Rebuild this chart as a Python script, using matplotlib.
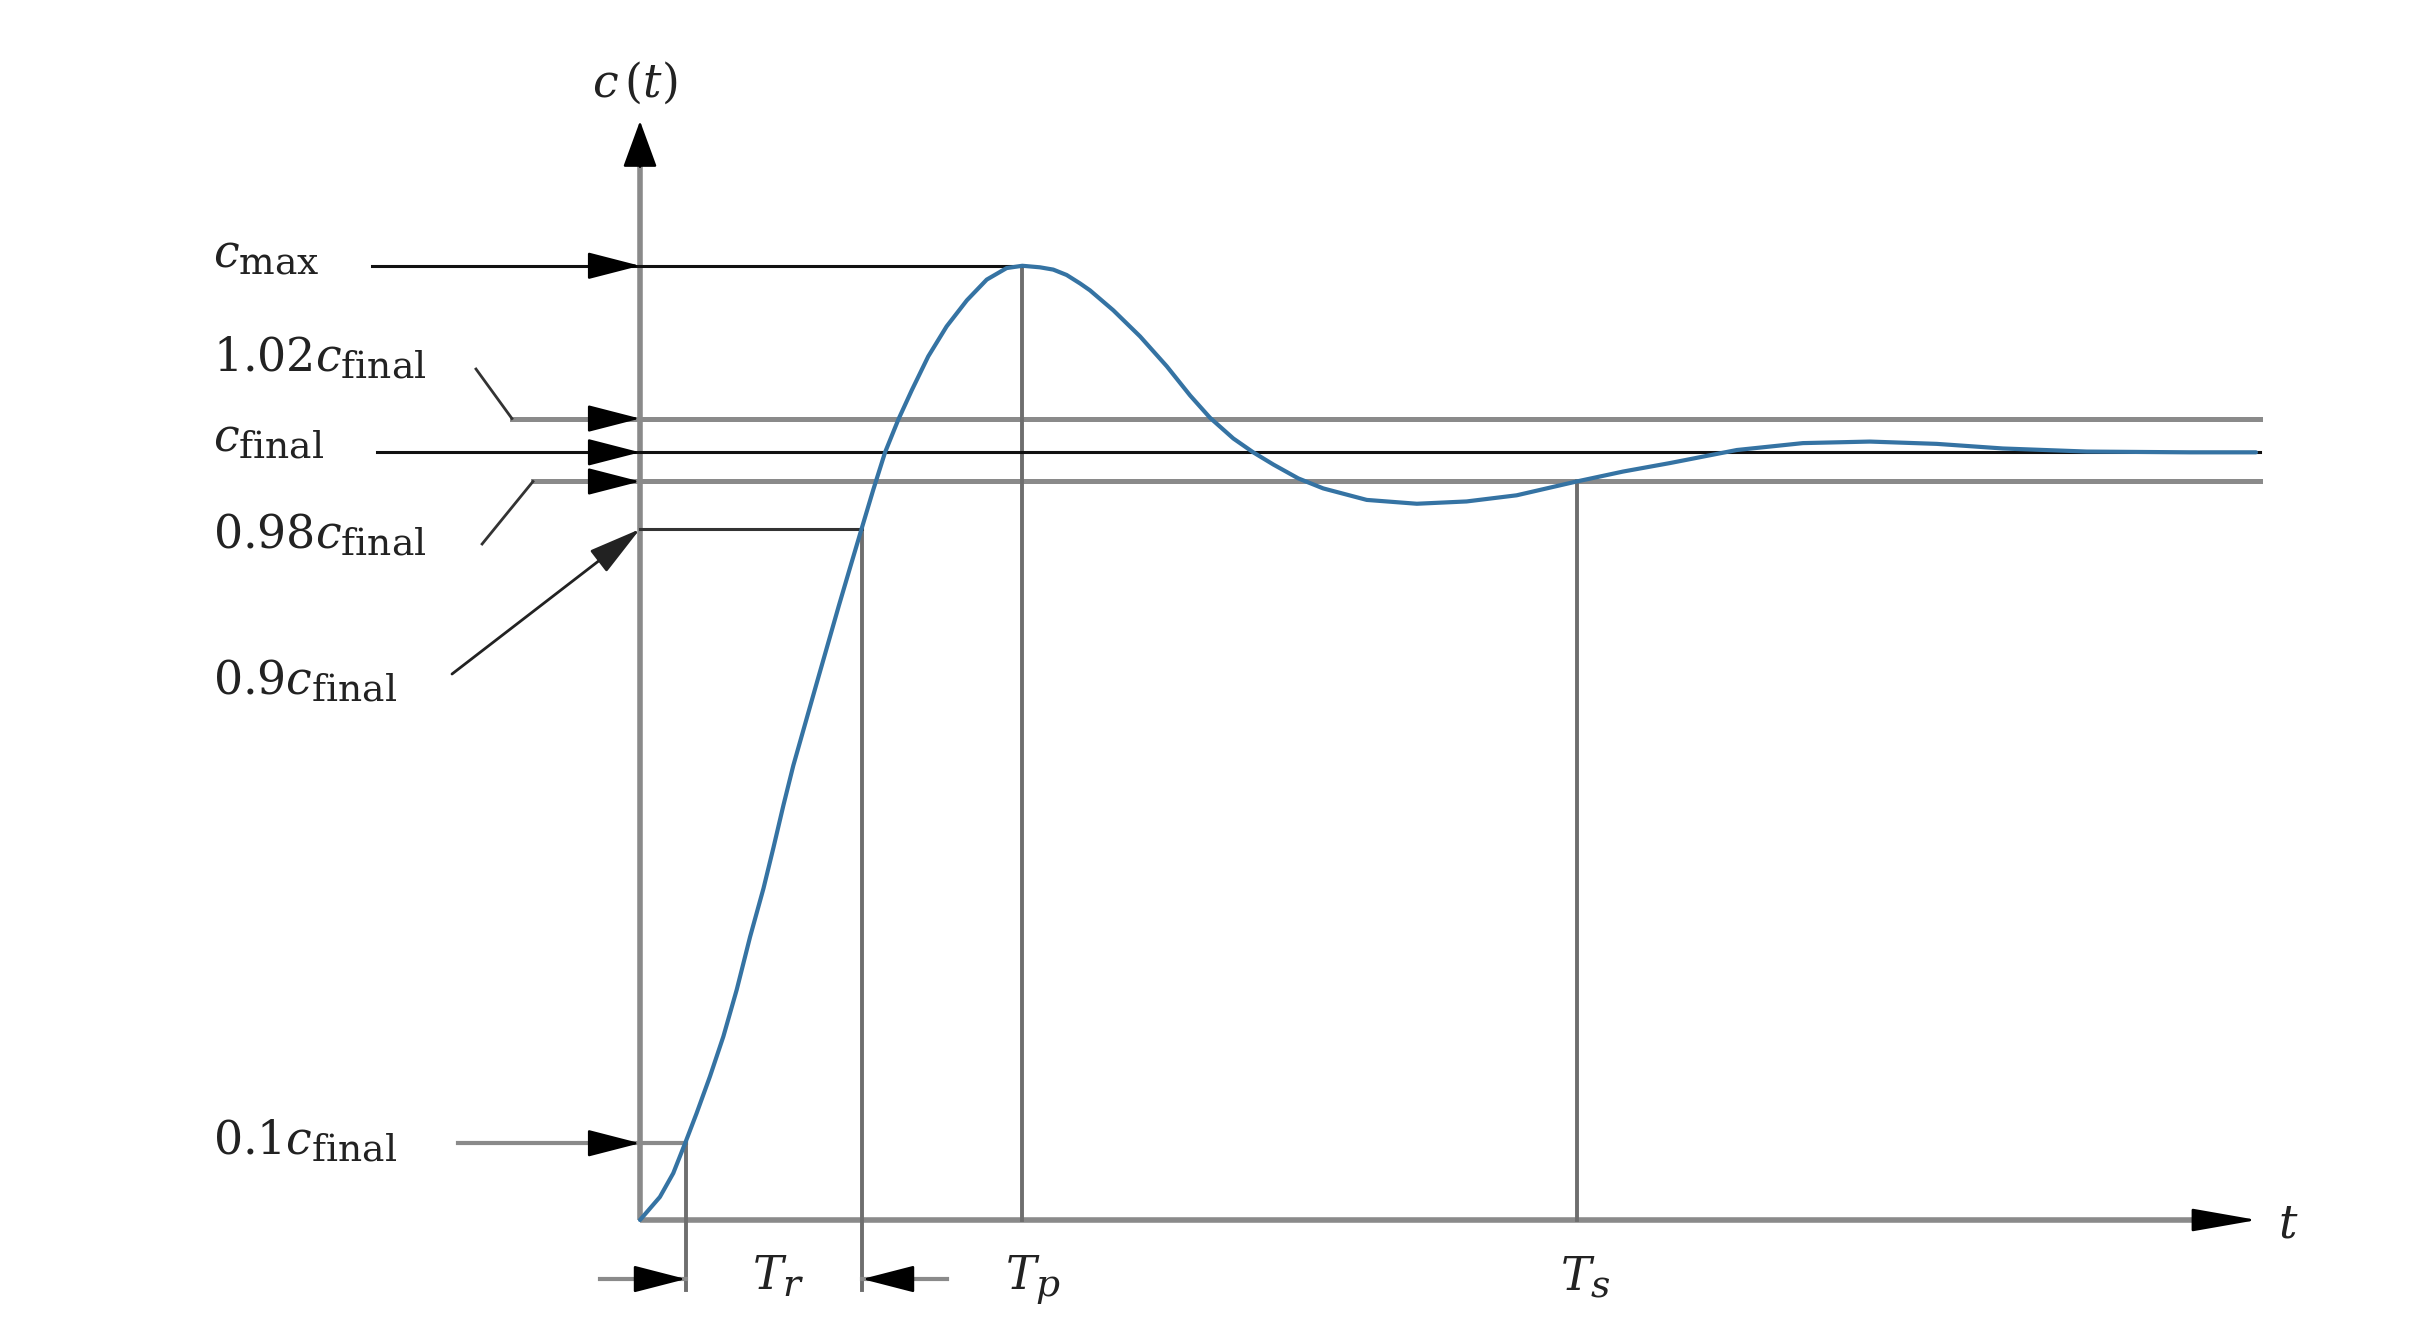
import matplotlib
matplotlib.use("Agg")
import matplotlib.pyplot as plt
from matplotlib.patches import FancyArrowPatch
try:
    import matplotlib._mathtext as _mt
    _mt.SHRINK_FACTOR = 0.82
except Exception:
    pass

plt.rcParams['mathtext.fontset'] = 'dejavuserif'
plt.rcParams['font.family'] = ['DejaVu Serif']

# ---------------- data ----------------
# step response c(t); time in units of Tp, output in units of c_final
t_curve = [0.0, 0.052, 0.087, 0.118, 0.148, 0.183, 0.218, 0.253, 0.288, 0.323,
           0.349, 0.375, 0.401, 0.462, 0.520, 0.549, 0.580, 0.610, 0.641, 0.676,
           0.711, 0.754, 0.802, 0.855, 0.907, 0.959, 1.0, 1.046, 1.081, 1.116,
           1.151, 1.177, 1.238, 1.308, 1.378, 1.439, 1.491, 1.552, 1.604, 1.657,
           1.722, 1.787, 1.901, 2.032, 2.162, 2.293, 2.450, 2.572, 2.694, 2.869,
           3.042, 3.217, 3.392, 3.565, 3.784, 4.054, 4.227]
c_curve = [0.0, 0.030, 0.061, 0.100, 0.139, 0.187, 0.239, 0.300, 0.369, 0.432,
           0.485, 0.540, 0.592, 0.699, 0.800, 0.849, 0.901, 0.951, 1.000, 1.043,
           1.081, 1.125, 1.164, 1.198, 1.225, 1.240, 1.243, 1.241, 1.238, 1.231,
           1.220, 1.211, 1.185, 1.151, 1.112, 1.074, 1.045, 1.018, 1.000, 0.984,
           0.966, 0.953, 0.938, 0.933, 0.936, 0.944, 0.962, 0.975, 0.986, 1.003,
           1.012, 1.014, 1.011, 1.005, 1.001, 1.000, 1.000]

# levels (as drawn)
C_MAX = 1.243
BAND_HI = 1.044      # labelled 1.02 c_final
C_FINAL = 1.0
BAND_LO = 0.962      # labelled 0.98 c_final
RISE_HI = 0.9
RISE_LO = 0.1

# characteristic times
T_10 = 0.120
T_90 = 0.581
T_P = 1.0
T_S = 2.450
T_END = 4.237

level_labels = [r'$c_{\mathrm{max}}$', r'$1.02c_{\mathrm{final}}$', r'$c_{\mathrm{final}}$',
                r'$0.98c_{\mathrm{final}}$', r'$0.9c_{\mathrm{final}}$', r'$0.1c_{\mathrm{final}}$']
time_labels = [r'$T_r$', r'$T_p$', r'$T_s$']

# ---------------- layout ----------------
fig = plt.figure(figsize=(24.2, 13.34), dpi=100)
ax = fig.add_axes([0, 0, 1, 1])
ax.set_xlim(-1.6741, 4.656)
ax.set_ylim(-0.1485, 1.5892)
ax.axis('off')

GREY = '#8a8a8a'
VGREY = '#6e6e6e'
BLACK = '#111111'
DARK = '#333333'
BLUE = '#3573a3'
FS = 33

def head(tail, tip, hl=3.3, hw=0.85, color='black', lw=1.8, z=6):
    ax.add_patch(FancyArrowPatch(tail, tip,
                                 arrowstyle=f'-|>,head_length={hl},head_width={hw}',
                                 mutation_scale=10, color=color, lw=lw,
                                 shrinkA=0, shrinkB=0, zorder=z))

# axes
ax.plot([0, 0], [0, 1.378], color=GREY, lw=4.0, solid_capstyle='butt', zorder=3)
head((0, 1.372), (0, 1.4316), hl=2.95, hw=1.08)
ax.plot([0, 4.09], [0, 0], color=GREY, lw=4.0, solid_capstyle='butt', zorder=3)
head((4.075, 0), (4.2297, 0), hl=4.1, hw=0.72)

# horizontal level lines
ax.plot([-0.701, T_P], [C_MAX, C_MAX], color=BLACK, lw=2.2, zorder=4)
head((-0.13, C_MAX), (0, C_MAX))

ax.plot([-0.335, T_END], [BAND_HI, BAND_HI], color=GREY, lw=3.6, zorder=3)
ax.plot([-0.429, -0.335], [1.1085, BAND_HI], color=DARK, lw=2.0, zorder=3)
head((-0.13, BAND_HI), (0, BAND_HI))

ax.plot([-0.688, T_END], [C_FINAL, C_FINAL], color=BLACK, lw=2.2, zorder=4)
head((-0.13, C_FINAL), (0, C_FINAL))

ax.plot([-0.280, T_END], [BAND_LO, BAND_LO], color=GREY, lw=3.6, zorder=3)
ax.plot([-0.413, -0.280], [0.8806, BAND_LO], color=DARK, lw=2.0, zorder=3)
head((-0.13, BAND_LO), (0, BAND_LO))

ax.plot([0, T_90], [RISE_HI, RISE_HI], color=DARK, lw=2.2, zorder=4)
head((-0.4918, 0.7112), (0, RISE_HI), color='#222222', lw=2.0)

ax.plot([-0.476, T_10], [RISE_LO, RISE_LO], color=GREY, lw=3.0, zorder=3)
head((-0.13, RISE_LO), (0, RISE_LO))

# vertical time markers
ax.plot([T_10, T_10], [RISE_LO, -0.0912], color=VGREY, lw=2.8, zorder=3)
ax.plot([T_90, T_90], [RISE_HI, -0.0912], color=VGREY, lw=2.8, zorder=3)
ax.plot([T_P, T_P], [C_MAX, 0], color=VGREY, lw=2.8, zorder=3)
ax.plot([T_S, T_S], [BAND_LO, 0], color=VGREY, lw=2.8, zorder=3)

# rise time arrows
ax.plot([-0.1046, T_10], [-0.0769, -0.0769], color=GREY, lw=3.0, zorder=3)
head((T_10 - 0.12, -0.0769), (T_10, -0.0769))
ax.plot([0.803, T_90], [-0.0769, -0.0769], color=GREY, lw=3.0, zorder=3)
head((T_90 + 0.12, -0.0769), (T_90, -0.0769))

# the response curve
ax.plot(t_curve, c_curve, color=BLUE, lw=3.0, solid_joinstyle='round',
        solid_capstyle='round', zorder=5)

# texts
TX = -1.117
label_y = [1.2414, 1.1059, 1.0017, 0.8753, 0.6851, 0.086]
for lab, yb in zip(level_labels, label_y):
    ax.text(TX, yb, lab, fontsize=FS, ha='left', va='baseline', color='#222222')

ax.text(-0.013, 1.4628, r'$c\,(t)$', fontsize=FS, ha='center', va='baseline', color='#222222')
ax.text(4.285, -0.0234, r'$t$', fontsize=FS, ha='left', va='baseline', color='#222222')
for lab, xl in zip(time_labels, [0.293, 0.955, 2.4065]):
    ax.text(xl, -0.0912, lab, fontsize=FS, ha='left', va='baseline', color='#222222')

fig.savefig('out.png', dpi=100, facecolor='white')
